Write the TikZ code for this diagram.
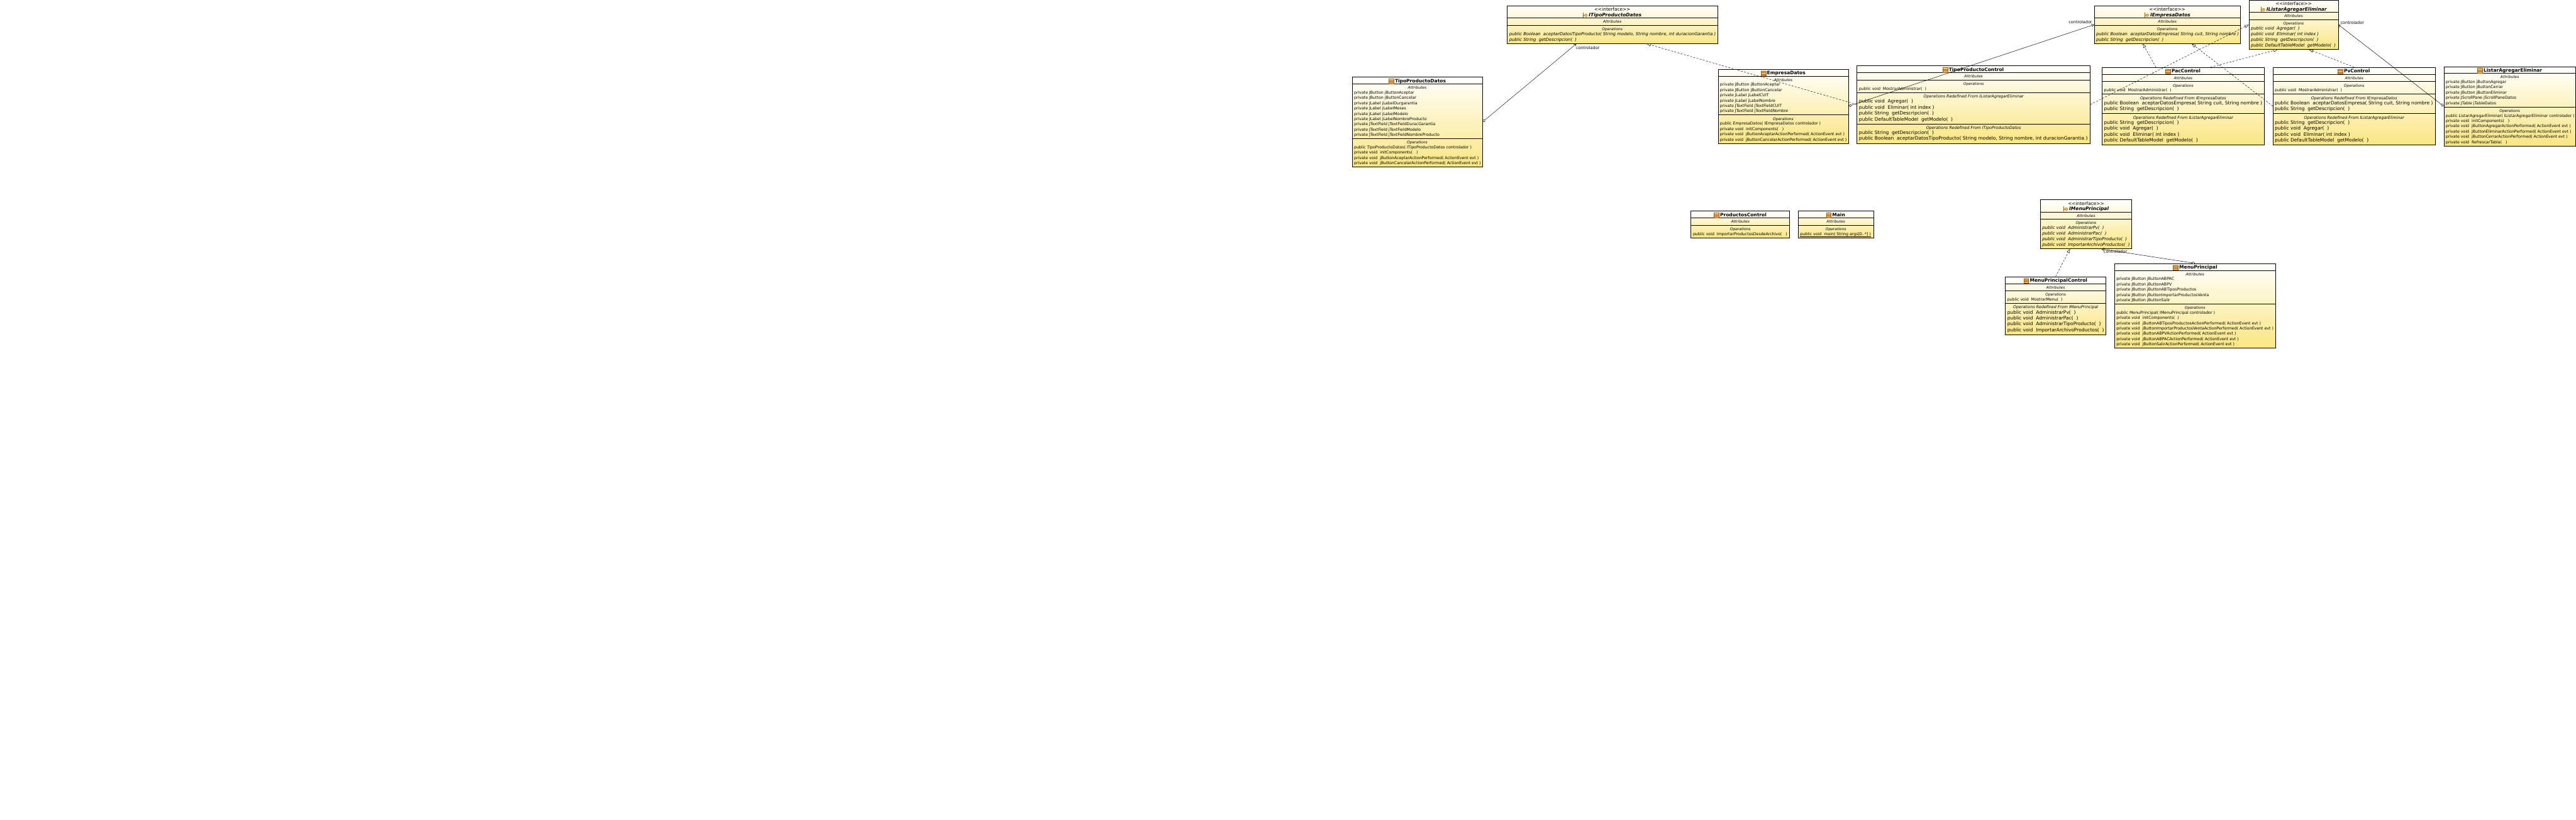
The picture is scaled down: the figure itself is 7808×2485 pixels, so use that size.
\documentclass[tikz,border=0pt]{standalone}
\usepackage{fontspec}
\setmainfont{DejaVu Sans}
\usepackage{xcolor}
\usetikzlibrary{arrows.meta}
\definecolor{umltop}{RGB}{255,255,252}
\definecolor{umlbot}{RGB}{250,230,130}
\definecolor{iconedge}{RGB}{160,90,10}
\definecolor{iconfill}{RGB}{240,170,80}
\tikzset{
  umlbox/.style={draw=black, line width=1pt, top color=umltop, bottom color=umlbot, inner sep=0pt},
  sepline/.style={line width=1pt},
  rowtext/.style={anchor=west, inner sep=0pt, text height=10pt, text depth=2pt, font=\fontsize{11.9}{13}\selectfont},
  irow/.style={rowtext, font=\fontsize{12.9}{14}\selectfont\itshape},
  bigrow/.style={rowtext, font=\fontsize{14.3}{15}\selectfont},
  comptitle/.style={inner sep=0pt, text height=10pt, text depth=2pt, font=\fontsize{11.3}{13}\selectfont\itshape},
  redeftitle/.style={comptitle, font=\fontsize{12}{13}\selectfont\itshape},
  boxtitle/.style={inner sep=0pt, text height=11pt, text depth=3pt, font=\fontsize{14.3}{16}\selectfont\bfseries},
  ititle/.style={boxtitle, font=\fontsize{14.3}{16}\selectfont\bfseries\itshape},
  stereo/.style={inner sep=0pt, text height=10pt, text depth=3pt, font=\fontsize{14}{15}\selectfont},
  rolelabel/.style={anchor=west, inner sep=0pt, text height=9pt, text depth=3pt, font=\fontsize{12.4}{14}\selectfont},
  realize/.style={line width=0.9pt, dash pattern=on 5.5pt off 4.5pt, -{Triangle[fill=white, length=12pt, width=9pt]}},
  aggreg/.style={line width=0.9pt, {Diamond[fill=white, length=11pt, width=8pt]}-{Straight Barb[length=7pt, width=9pt]}},
}
\newcommand{\classicon}[1]{
  \draw[draw=iconedge, line width=0.8pt, top color=iconfill!50, bottom color=iconfill, shift={(#1.west)}] (-18,-7) rectangle (-3.5,7);
  \draw[draw=iconedge, line width=0.8pt, shift={(#1.west)}] (-18,-2.3) -- (-3.5,-2.3) (-18,2.3) -- (-3.5,2.3);
}
\newcommand{\ifaceicon}[1]{
  \draw[draw=iconedge, line width=0.9pt, shift={(#1.west)}] (-16.5,-8) -- (-16.5,7) (-16.5,0) -- (-13,0);
  \draw[draw=iconedge!80, line width=0.7pt, fill=iconfill, shift={(#1.west)}] (-8.7,0) circle (4.5pt);
}
\begin{document}
\begin{tikzpicture}[x=1pt, y=-1pt]
\useasboundingbox (0,0) rectangle (7808,2485);
% ITipoProductoDatos
\node[umlbox, minimum width=637.2pt, minimum height=115pt] (itpd) at (4887,74.8) {};
\foreach \y in {54.3,76.3} \draw[sepline] (itpd.west |- 0,\y) -- (itpd.east |- 0,\y);
\node[stereo] (itpdS) at (4887,30.3) {<{}<interface>{}>};
\node[ititle] (itpdT) at (4895.6,46.3) {ITipoProductoDatos};
\ifaceicon{itpdT}
\node[comptitle] (itpdA) at (4887,66.3) {Attributes};
\node[comptitle] (itpdO) at (4887,88.3) {Operations};
\foreach \txt [count=\i from 0] in {{public Boolean~~aceptarDatosTipoProducto( String modelo, String nombre, int duracionGarantia )},public String~~getDescripcion(~~)}
  \node[irow] (itpdR\i) at (4574.3,{104+17*\i}) {\txt};
% TipoProductoDatos
\node[umlbox, minimum width=395pt, minimum height=273pt] (tpd) at (4295.5,369.8) {};
\foreach \y in {254.3,420.3} \draw[sepline] (tpd.west |- 0,\y) -- (tpd.east |- 0,\y);
\node[boxtitle] (tpdT) at (4305.2,246) {TipoProductoDatos};
\classicon{tpdT}
\node[comptitle] (tpdA) at (4295.5,266.3) {Attributes};
\foreach \txt [count=\i from 0] in {private JButton jButtonAceptar,private JButton jButtonCancelar,private JLabel jLabelDurgarantia,private JLabel jLabelMeses,private JLabel jLabelModelo,private JLabel jLabelNombreProducto,private JTextField jTextFieldDuracGarantia,private JTextField jTextFieldModelo,private JTextField jTextFieldNombreProducto}
  \node[rowtext] (tpdB\i) at (4104,{281+16*\i}) {\txt};
\node[comptitle] (tpdO) at (4295.5,432.3) {Operations};
\foreach \txt [count=\i from 0] in {public TipoProductoDatos( ITipoProductoDatos controlador ),private void~~initComponents(~~~),private void~~jButtonAceptarActionPerformed( ActionEvent evt ),private void~~jButtonCancelarActionPerformed( ActionEvent evt )}
  \node[rowtext] (tpdR\i) at (4104,{447+16*\i}) {\txt};
% EmpresaDatos
\node[umlbox, minimum width=394.9pt, minimum height=225pt] (emp) at (5405,321.8) {};
\foreach \y in {230.3,348.3} \draw[sepline] (emp.west |- 0,\y) -- (emp.east |- 0,\y);
\node[boxtitle] (empT) at (5414.2,222.3) {EmpresaDatos};
\classicon{empT}
\node[comptitle] (empA) at (5405,242.3) {Attributes};
\foreach \txt [count=\i from 0] in {private JButton jButtonAceptar,private JButton jButtonCancelar,private JLabel jLabelCUIT,private JLabel jLabelNombre,private JTextField jTextFieldCUIT,private JTextField jTextFieldNombre}
  \node[rowtext] (empB\i) at (5213,{257+16*\i}) {\txt};
\node[comptitle] (empO) at (5405,360.3) {Operations};
\foreach \txt [count=\i from 0] in {public EmpresaDatos( IEmpresaDatos controlador ),private void~~initComponents(~~~),private void~~jButtonAceptarActionPerformed( ActionEvent evt ),private void~~jButtonCancelarActionPerformed( ActionEvent evt )}
  \node[rowtext] (empR\i) at (5213,{375+16*\i}) {\txt};
% TipoProductoControl
\node[umlbox, minimum width=707.1pt, minimum height=235pt] (tpc) at (5982,316.8) {};
\foreach \y in {220.3,242.3,280.3,375.3} \draw[sepline] (tpc.west |- 0,\y) -- (tpc.east |- 0,\y);
\node[boxtitle] (tpcT) at (5990.4,212.3) {TipoProductoControl};
\classicon{tpcT}
\node[comptitle] (tpcA) at (5982,232.3) {Attributes};
\node[comptitle] (tpcO) at (5982,254.3) {Operations};
\node[rowtext] (tpcM) at (5634.6,269) {public void~~MostrarAdministrar(~~)};
\node[redeftitle] (tpcL) at (5982,293) {Operations Redefined From IListarAgregarEliminar};
\foreach \txt [count=\i from 0] in {public void~~Agregar(~~),public void~~Eliminar( int index ),public String~~getDescripcion(~~),public DefaultTableModel~~getModelo(~~)}
  \node[bigrow] (tpcR\i) at (5634.6,{308.3+18*\i}) {\txt};
\node[redeftitle] (tpcD) at (5982,387.7) {Operations Redefined From ITipoProductoDatos};
\foreach \txt [count=\i from 0] in {public String~~getDescripcion(~~),{public Boolean~~aceptarDatosTipoProducto( String modelo, String nombre, int duracionGarantia )}}
  \node[bigrow] (tpcS\i) at (5634.6,{403+18*\i}) {\txt};
% IEmpresaDatos
\node[umlbox, minimum width=443.2pt, minimum height=115pt] (iemp) at (6569.2,74.8) {};
\foreach \y in {54.3,76.3} \draw[sepline] (iemp.west |- 0,\y) -- (iemp.east |- 0,\y);
\node[stereo] (iempS) at (6569.2,30.3) {<{}<interface>{}>};
\node[ititle] (iempT) at (6578.4,46.3) {IEmpresaDatos};
\ifaceicon{iempT}
\node[comptitle] (iempA) at (6569.2,66.3) {Attributes};
\node[comptitle] (iempO) at (6569.2,88.3) {Operations};
\foreach \txt [count=\i from 0] in {{public Boolean~~aceptarDatosEmpresa( String cuit, String nombre )},public String~~getDescripcion(~~)}
  \node[irow] (iempR\i) at (6353.3,{104+17*\i}) {\txt};
% IListarAgregarEliminar
\node[umlbox, minimum width=270.9pt, minimum height=149.4pt] (ilae) at (6952,75) {};
\foreach \y in {37.3,59.7} \draw[sepline] (ilae.west |- 0,\y) -- (ilae.east |- 0,\y);
\node[stereo] (ilaeS) at (6952,13.3) {<{}<interface>{}>};
\node[ititle] (ilaeT) at (6961,29.3) {IListarAgregarEliminar};
\ifaceicon{ilaeT}
\node[comptitle] (ilaeA) at (6952,49.3) {Attributes};
\node[comptitle] (ilaeO) at (6952,71.3) {Operations};
\foreach \txt [count=\i from 0] in {public void~~Agregar(~~),public void~~Eliminar( int index ),public String~~getDescripcion(~~),public DefaultTableModel~~getModelo(~~)}
  \node[irow] (ilaeR\i) at (6822.3,{86.7+17*\i}) {\txt};
% PacControl
\node[umlbox, minimum width=492.4pt, minimum height=235pt] (pac) at (6617.2,321.8) {};
\foreach \y in {225.3,247.3,285.3,344.3} \draw[sepline] (pac.west |- 0,\y) -- (pac.east |- 0,\y);
\node[boxtitle] (pacT) at (6626,217) {PacControl};
\classicon{pacT}
\node[comptitle] (pacA) at (6617.2,237.3) {Attributes};
\node[comptitle] (pacO) at (6617.2,259.3) {Operations};
\node[rowtext] (pacM) at (6377.4,274) {public void~~MostrarAdministrar(~~)};
\node[redeftitle] (pacD) at (6617.2,297.7) {Operations Redefined From IEmpresaDatos};
\foreach \txt [count=\i from 0] in {{public Boolean~~aceptarDatosEmpresa( String cuit, String nombre )},public String~~getDescripcion(~~)}
  \node[bigrow] (pacS\i) at (6377.4,{313.3+18*\i}) {\txt};
\node[redeftitle] (pacL) at (6617.2,356.3) {Operations Redefined From IListarAgregarEliminar};
\foreach \txt [count=\i from 0] in {public String~~getDescripcion(~~),public void~~Agregar(~~),public void~~Eliminar( int index ),public DefaultTableModel~~getModelo(~~)}
  \node[bigrow] (pacR\i) at (6377.4,{372.3+18*\i}) {\txt};
% PvControl
\node[umlbox, minimum width=492pt, minimum height=235pt] (pvc) at (7135.5,321.8) {};
\foreach \y in {225.3,247.3,285.3,344.3} \draw[sepline] (pvc.west |- 0,\y) -- (pvc.east |- 0,\y);
\node[boxtitle] (pvcT) at (7144,217) {PvControl};
\classicon{pvcT}
\node[comptitle] (pvcA) at (7135.5,237.3) {Attributes};
\node[comptitle] (pvcO) at (7135.5,259.3) {Operations};
\node[rowtext] (pvcM) at (6895,274) {public void~~MostrarAdministrar(~~)};
\node[redeftitle] (pvcD) at (7135.5,297.7) {Operations Redefined From IEmpresaDatos};
\foreach \txt [count=\i from 0] in {{public Boolean~~aceptarDatosEmpresa( String cuit, String nombre )},public String~~getDescripcion(~~)}
  \node[bigrow] (pvcS\i) at (6895,{313.3+18*\i}) {\txt};
\node[redeftitle] (pvcL) at (7135.5,356.3) {Operations Redefined From IListarAgregarEliminar};
\foreach \txt [count=\i from 0] in {public String~~getDescripcion(~~),public void~~Agregar(~~),public void~~Eliminar( int index ),public DefaultTableModel~~getModelo(~~)}
  \node[bigrow] (pvcR\i) at (6895,{372.3+18*\i}) {\txt};
% ListarAgregarEliminar
\node[umlbox, minimum width=399.4pt, minimum height=240.6pt] (lae) at (7607.1,322) {};
\draw[sepline] (lae.west |- 0,222.3) -- (lae.east |- 0,222.3);
\draw[sepline] (lae.west |- 0,324.3) -- (lae.east |- 0,324.3);
\node[boxtitle] (laeT) at (7616.6,214) {ListarAgregarEliminar};
\classicon{laeT}
\node[comptitle] (laeA) at (7607.1,234) {Attributes};
\foreach \txt [count=\i from 0] in {private JButton jButtonAgregar,private JButton jButtonCerrar,private JButton jButtonEliminar,private JScrollPane jScrollPaneDatos,private JTable jTableDatos}
  \node[rowtext] (laeB\i) at (7413,{248.7+16*\i}) {\txt};
\node[comptitle] (laeO) at (7607.1,336.3) {Operations};
\foreach \txt [count=\i from 0] in {public ListarAgregarEliminar( IListarAgregarEliminar controlador ),private void~~initComponents(~~~),private void~~jButtonAgregarActionPerformed( ActionEvent evt ),private void~~jButtonEliminarActionPerformed( ActionEvent evt ),private void~~jButtonCerrarActionPerformed( ActionEvent evt ),private void~~RefrescarTabla(~~~)}
  \node[rowtext] (laeR\i) at (7413,{350.7+16*\i}) {\txt};
% ProductosControl
\node[umlbox, minimum width=299.2pt, minimum height=81pt] (prc) at (5274.9,679.8) {};
\foreach \y in {660.3,682.3} \draw[sepline] (prc.west |- 0,\y) -- (prc.east |- 0,\y);
\node[boxtitle] (prcT) at (5284,652) {ProductosControl};
\classicon{prcT}
\node[comptitle] (prcA) at (5274.9,672) {Attributes};
\node[comptitle] (prcO) at (5274.9,694.3) {Operations};
\node[rowtext] (prcM) at (5131.4,709) {public void~~ImportarProductosDesdeArchivo(~~~)};
% Main
\node[umlbox, minimum width=228pt, minimum height=81pt] (mainc) at (5564.6,679.8) {};
\foreach \y in {660.3,682.3} \draw[sepline] (mainc.west |- 0,\y) -- (mainc.east |- 0,\y);
\node[boxtitle] (maincT) at (5573.2,652) {Main};
\classicon{maincT}
\node[comptitle] (maincA) at (5564.6,672) {Attributes};
\node[comptitle] (maincO) at (5564.6,694.3) {Operations};
\node[rowtext] (maincM) at (5456.3,709) {\underline{public void~~main( String args[0..*] )}};
% IMenuPrincipal
\node[umlbox, minimum width=277pt, minimum height=149pt] (imp) at (6322.9,679.8) {};
\foreach \y in {642.3,664.3} \draw[sepline] (imp.west |- 0,\y) -- (imp.east |- 0,\y);
\node[stereo] (impS) at (6322.9,618.3) {<{}<interface>{}>};
\node[ititle] (impT) at (6331.8,634) {IMenuPrincipal};
\ifaceicon{impT}
\node[comptitle] (impA) at (6322.9,654) {Attributes};
\node[comptitle] (impO) at (6322.9,676) {Operations};
\foreach \txt [count=\i from 0] in {public void~~AdministrarPv(~~),public void~~AdministrarPac(~~),public void~~AdministrarTipoProducto(~~),public void~~ImportarArchivoProductos(~~)}
  \node[irow] (impR\i) at (6189.8,{691.7+17*\i}) {\txt};
% MenuPrincipalControl
\node[umlbox, minimum width=305.1pt, minimum height=176pt] (mpc) at (6230.8,926.3) {};
\foreach \y in {859.3,881.3,919.3} \draw[sepline] (mpc.west |- 0,\y) -- (mpc.east |- 0,\y);
\node[boxtitle] (mpcT) at (6239.7,851) {MenuPrincipalControl};
\classicon{mpcT}
\node[comptitle] (mpcA) at (6230.8,871.3) {Attributes};
\node[comptitle] (mpcO) at (6230.8,893.3) {Operations};
\node[rowtext] (mpcM) at (6084,908) {public void~~MostrarMenu(~~)};
\node[redeftitle] (mpcL) at (6230.8,931.7) {Operations Redefined From IMenuPrincipal};
\foreach \txt [count=\i from 0] in {public void~~AdministrarPv(~~),public void~~AdministrarPac(~~),public void~~AdministrarTipoProducto(~~),public void~~ImportarArchivoProductos(~~)}
  \node[bigrow] (mpcR\i) at (6084,{947.3+18*\i}) {\txt};
% MenuPrincipal
\node[umlbox, minimum width=487.9pt, minimum height=256.6pt] (mnp) at (6653.2,927) {};
\foreach \y in {819.3,921.3} \draw[sepline] (mnp.west |- 0,\y) -- (mnp.east |- 0,\y);
\node[boxtitle] (mnpT) at (6663,811) {MenuPrincipal};
\classicon{mnpT}
\node[comptitle] (mnpA) at (6653.2,831.3) {Attributes};
\foreach \txt [count=\i from 0] in {private JButton jButtonABPAC,private JButton jButtonABPV,private JButton jButtonABTiposProductos,private JButton jButtonImportarProductosVenta,private JButton jButtonSalir}
  \node[rowtext] (mnpB\i) at (6414.8,{846+16*\i}) {\txt};
\node[comptitle] (mnpO) at (6653.2,933.3) {Operations};
\foreach \txt [count=\i from 0] in {public MenuPrincipal( IMenuPrincipal controlador ),private void~~initComponents(~~),private void~~jButtonABTiposProductosActionPerformed( ActionEvent evt ),private void~~jButtonImportarProductosVentaActionPerformed( ActionEvent evt ),private void~~jButtonABPVActionPerformed( ActionEvent evt ),private void~~jButtonABPACActionPerformed( ActionEvent evt ),private void~~jButtonSalirActionPerformed( ActionEvent evt )}
  \node[rowtext] (mnpR\i) at (6414.8,{947.7+16*\i}) {\txt};
% Realizations
\draw[realize] (tpc.west) -- (itpd.331.5);
\draw[realize] (tpc.east) -- (ilae.west);
\draw[realize] (pac.125) -- (iemp.218);
\draw[realize] (pac.55) -- (ilae.237.3);
\draw[realize] (pvc.west) -- (iemp.322.1);
\draw[realize] (pvc.north) -- (ilae.302.7);
\draw[realize] (mpc.north) -- (imp.237.3);
% Aggregations
\draw[aggreg] (tpd.east) -- (itpd.208);
\draw[aggreg] (emp.east) -- (iemp.west);
\draw[aggreg] (lae.west) -- (ilae.east);
\draw[aggreg] (mnp.north) -- (imp.302.2);
% Role labels
\node[rolelabel] (roleA) at (4777,145.7) {controlador};
\node[rolelabel] (roleB) at (6270,69) {controlador};
\node[rolelabel] (roleC) at (7094,71) {controlador};
\node[rolelabel] (roleD) at (6376,764.7) {controlador};
\end{tikzpicture}
\end{document}
